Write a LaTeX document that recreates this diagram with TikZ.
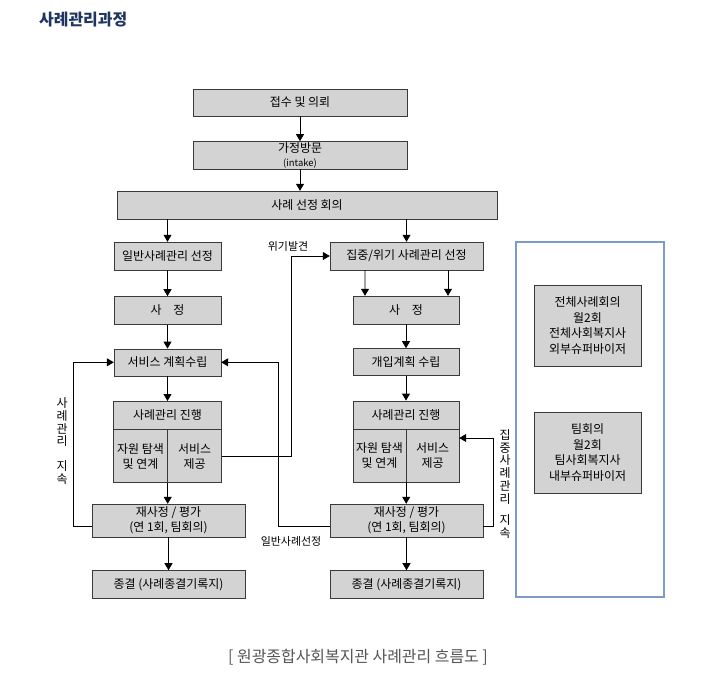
\documentclass[tikz,border=0pt]{standalone}
\usepackage{fontspec}
\setmainfont{Noto Sans CJK KR}
\usetikzlibrary{arrows.meta, positioning}
\definecolor{boxfill}{HTML}{D3D3D3}
\definecolor{boxline}{HTML}{3A3A3A}
\definecolor{titleblue}{HTML}{1F3562}
\definecolor{panelline}{HTML}{7B9CC6}
\definecolor{captiongray}{HTML}{555555}

\begin{document}
\begin{tikzpicture}[x=1bp, y=-1bp,
  box/.style={draw=boxline, fill=boxfill, minimum height=28bp, inner sep=1bp,
    align=center, font=\fontsize{12}{15}\selectfont},
  widebox/.style={box, minimum width=153bp},
  narrowbox/.style={box, minimum width=107bp},
  cellbox/.style={box, minimum width=54bp, minimum height=53bp},
  arrow/.style={-{Triangle[width=8bp,length=7bp]}, black, line width=0.8bp},
  note/.style={font=\fontsize{11}{12}\selectfont, inner sep=0pt},
  vnote/.style={note, align=center, font=\fontsize{12}{12.8}\selectfont},
]
\useasboundingbox (0,0) rectangle (715,693);

% Title and caption
\node[anchor=west, font=\fontsize{16}{18}\selectfont\bfseries, text=titleblue, inner sep=0pt]
  (title) at (39,20) {사례관리과정};
\node[font=\fontsize{16}{18}\selectfont, text=captiongray, inner sep=0pt]
  (caption) at (358,657) {[ 원광종합사회복지관 사례관리 흐름도 ]};

% Common part
\node[box, minimum width=214bp, minimum height=27bp] (intake) at (300,102.5) {접수 및 의뢰};
\node[box, minimum width=214bp, minimum height=27bp, below=25bp of intake,
  font=\fontsize{12}{14}\selectfont] (visit) {가정방문\\{\fontsize{9.5}{10}\selectfont (intake)}};
\node[box, minimum width=380bp] (select) at (307,205) {사례 선정 회의};

\draw[arrow] (intake) -- (visit);
\draw[arrow] (visit) -- (select.north -| visit);

% Left column — general case
\node[narrowbox] (gen) at (167.5,256) {일반사례관리 선정};
\node[narrowbox, below=26bp of gen] (assessL) {사\quad 정};
\node[narrowbox, below=24bp of assessL, minimum height=27bp] (planL) {서비스 계획수립};
\node[box, minimum width=108bp, below=25bp of planL] (headL) {사례관리 진행};
\node[cellbox, anchor=north west] (findL) at (headL.south west) {자원 탐색\\및 연계};
\node[cellbox, anchor=north east] (srvL) at (headL.south east) {서비스\\제공};
\node[widebox, minimum height=33bp] (reL) at (168.5,520.5) {재사정 / 평가\\(연 1회, 팀회의)};
\node[widebox, below=33bp of reL] (endL) {종결 (사례종결기록지)};

\draw[arrow] (select.south -| gen) -- (gen);
\draw[arrow] (gen) -- (assessL);
\draw[arrow] (assessL) -- (planL);
\draw[arrow] (planL) -- (headL);
\draw[arrow] (findL.south east) -- (reL.north -| findL.south east);
\draw[arrow] (reL) -- (endL);

% Right column — intensive / crisis case
\node[widebox] (crisis) at (406.5,256) {집중/위기 사례관리 선정};
\node[box, minimum width=106bp] (assessR) at (406,310) {사\quad 정};
\node[box, minimum width=106bp, minimum height=27bp, below=24bp of assessR] (planR) {개입계획 수립};
\node[box, minimum width=106bp, below=25bp of planR] (headR) {사례관리 진행};
\node[cellbox, minimum width=53bp, anchor=north west] (findR) at (headR.south west) {자원 탐색\\및 연계};
\node[cellbox, minimum width=53bp, anchor=north east] (srvR) at (headR.south east) {서비스\\제공};
\node[widebox, minimum height=33bp] (reR) at (406.5,520.5) {재사정 / 평가\\(연 1회, 팀회의)};
\node[widebox, below=33bp of reR] (endR) {종결 (사례종결기록지)};

\draw[arrow] (select.south -| crisis) -- (crisis);
\draw[arrow] ([xshift=-41.5bp]crisis.south) -- ([xshift=-41bp]assessR.north);
\draw[arrow] ([xshift=41.5bp]crisis.south) -- ([xshift=42bp]assessR.north);
\draw[arrow] (assessR) -- (planR);
\draw[arrow] (planR) -- (headR);
\draw[arrow] (findR.south east) -- (reR.north -| findR.south east);
\draw[arrow] (reR) -- (endR);

% Feedback connectors
\coordinate (loopL) at (73,0);
\coordinate (crisisX) at (291,0);
\coordinate (genX) at (278,0);
\coordinate (loopR) at (493,0);
\coordinate (srvRin) at ([yshift=-9bp]srvR.north east);

\draw[arrow] ([yshift=-6bp]reL.west) -| (loopL |- planL) -- (planL.west);
\draw[arrow] (srvL.east) -| (crisisX |- crisis) -- (crisis.west);
\draw[arrow] ([yshift=-6bp]reR.west) -| (genX |- planL) -- (planL.east);
\draw[arrow] ([yshift=-6bp]reR.east) -| (loopR |- srvRin) -- (srvRin);

\node[note] (crisisnote) at (288,246) {위기발견};
\node[note] (gennote) at (291,541) {일반사례선정};
\node[vnote] (contL) at (62,441) {사\\례\\관\\리\\[12bp]지\\속};
\node[vnote] (contR) at (505,484) {집\\중\\사\\례\\관\\리\\[9bp]지\\속};

% Meetings panel
\node[draw=panelline, line width=1.5bp, minimum width=148bp, minimum height=355bp]
  (panel) at (590,419.5) {};
\node[narrowbox, minimum height=81bp, font=\fontsize{12}{15.7}\selectfont]
  (allmeet) at (587.5,325.5) {전체사례회의\\월2회\\전체사회복지사\\외부슈퍼바이저};
\node[narrowbox, minimum height=81bp, font=\fontsize{12}{15.7}\selectfont]
  (teammeet) at (587.5,452.5) {팀회의\\월2회\\팀사회복지사\\내부슈퍼바이저};

\end{tikzpicture}
\end{document}
